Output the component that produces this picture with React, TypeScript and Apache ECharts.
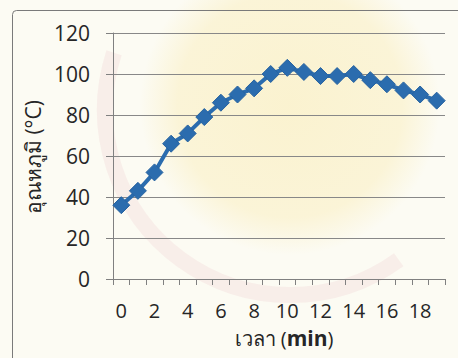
import React, { useEffect, useRef } from "react";
import * as echarts from "echarts";

// Temperature readings taken once a minute
const minutes: string[] = [
  "0", "1", "2", "3", "4", "5", "6", "7", "8", "9",
  "10", "11", "12", "13", "14", "15", "16", "17", "18", "19",
];
const temperature: number[] = [
  36, 43, 52, 66, 71, 79, 86, 90, 93, 100,
  103, 101, 99, 99, 100, 97, 95, 92, 90, 87,
];
const yTitle = "อุณหภูมิ (°C)";
const xTitleThai = "เวลา (";
const xTitleUnit = "min";

const FONT = "'Open Sans', 'Noto Sans', 'DejaVu Sans', sans-serif";
const INK = "#262626";
const BLUE = "#2b6cae";

export default function App() {
  const ref = useRef<HTMLDivElement>(null);

  useEffect(() => {
    if (!ref.current) return;
    const chart = echarts.init(ref.current, undefined, { renderer: "svg" });
    chart.setOption({
      animation: false,
      backgroundColor: "#fcfbf3",
      grid: { left: 113, right: 13, top: 33, bottom: 79 },
      xAxis: {
        type: "category",
        data: minutes,
        boundaryGap: true,
        axisLine: { show: true, lineStyle: { color: "#808080", width: 1 } },
        axisTick: { show: true, interval: 0, length: 6, lineStyle: { color: "#808080" } },
        axisLabel: {
          interval: 1,
          margin: 21,
          color: INK,
          fontFamily: FONT,
          fontSize: 20,
        },
        splitLine: { show: false },
      },
      yAxis: {
        type: "value",
        min: 0,
        max: 120,
        interval: 20,
        axisLine: { show: true, lineStyle: { color: "#808080", width: 1 } },
        axisTick: { show: true, length: 7, lineStyle: { color: "#808080" } },
        axisLabel: {
          margin: 23,
          color: INK,
          fontFamily: FONT,
          fontSize: 21,
        },
        splitLine: { show: true, lineStyle: { color: "#888888", width: 1.2 } },
      },
      series: [
        {
          type: "line",
          data: temperature,
          symbol: "diamond",
          symbolSize: 17,
          showSymbol: true,
          showAllSymbol: true,
          lineStyle: { color: BLUE, width: 4 },
          itemStyle: { color: BLUE, borderColor: "#2763a0", borderWidth: 1 },
          z: 5,
        },
      ],
      graphic: [
        // faint emblem tint behind the plot
        {
          type: "circle",
          shape: { cx: 290, cy: 105, r: 150 },
          style: {
            fill: {
              type: "radial",
              x: 0.5,
              y: 0.5,
              r: 0.5,
              colorStops: [
                { offset: 0, color: "rgba(248, 228, 150, 0.38)" },
                { offset: 0.75, color: "rgba(248, 228, 150, 0.30)" },
                { offset: 1, color: "rgba(248, 228, 150, 0)" },
              ],
            },
          },
          silent: true,
          z: -10,
        },
        {
          type: "arc",
          shape: { cx: 290, cy: 110, r: 185, startAngle: Math.PI * 0.3, endAngle: Math.PI * 1.1 },
          style: { stroke: "rgba(225, 150, 165, 0.12)", lineWidth: 16, fill: "none" },
          silent: true,
          z: -10,
        },
        {
          type: "rect",
          shape: { x: 12.5, y: 10.5, width: 520, height: 420, r: 4 },
          style: { fill: "none", stroke: "#7a7a7a", lineWidth: 1 },
          silent: true,
        },
        {
          type: "text",
          x: 33,
          y: 157,
          rotation: Math.PI / 2,
          style: {
            text: yTitle,
            fill: INK,
            font: `21px ${FONT}`,
            textAlign: "center",
            textVerticalAlign: "middle",
          },
        },
        {
          type: "text",
          x: 284,
          y: 338,
          style: {
            text: `{a|${xTitleThai}}{b|${xTitleUnit}}{a|)}`,
            textAlign: "center",
            textVerticalAlign: "middle",
            rich: {
              a: { fontSize: 20, fontFamily: FONT, fill: INK, color: INK },
              b: { fontSize: 21, fontFamily: FONT, fontWeight: "bold", fill: INK, color: INK },
            },
          },
        },
      ],
    });
    return () => chart.dispose();
  }, []);

  return (
    <div
      ref={ref}
      style={{ position: "fixed", left: 0, top: 0, width: 458, height: 358 }}
    />
  );
}
